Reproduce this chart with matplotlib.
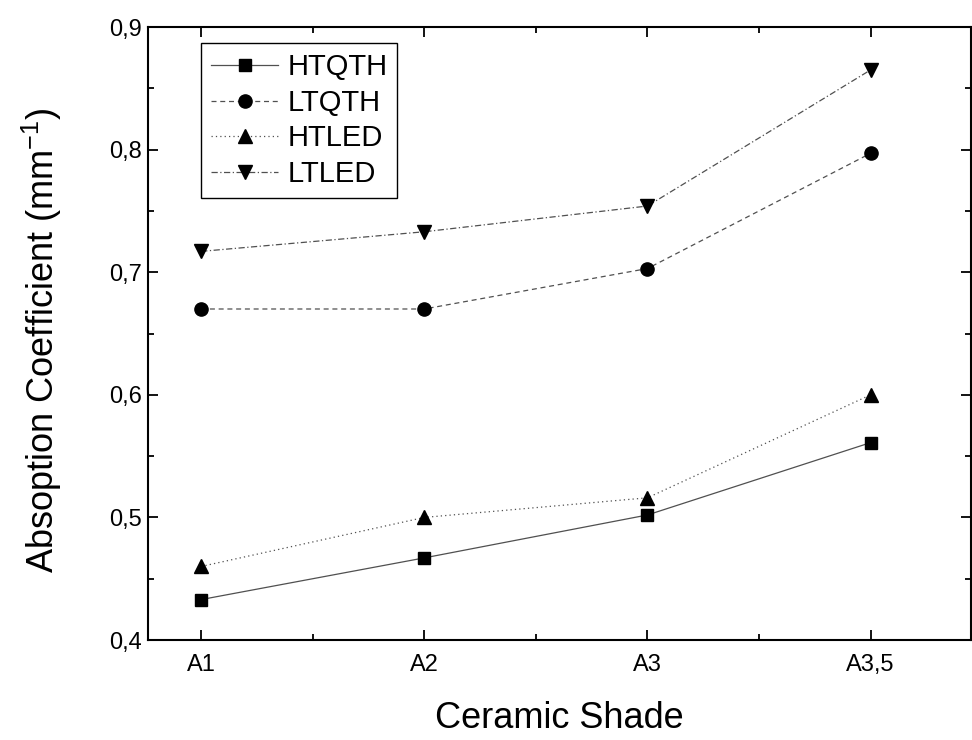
import matplotlib
matplotlib.use("Agg")
import matplotlib.pyplot as plt
from matplotlib.ticker import FixedLocator, MultipleLocator, FuncFormatter

plt.rcParams['font.family'] = ['Liberation Sans', 'DejaVu Sans']

categories = ["A1", "A2", "A3", "A3,5"]
htqth = [0.433, 0.467, 0.502, 0.561]
ltqth = [0.670, 0.670, 0.703, 0.797]
htled = [0.460, 0.500, 0.516, 0.600]
ltled = [0.717, 0.733, 0.754, 0.865]

fig = plt.figure(figsize=(9.72, 7.40), dpi=100)
ax = fig.add_axes([0.1523, 0.1351, 0.8467, 0.8284])

x = list(range(len(categories)))
lc = '#505050'
ax.plot(x, htqth, linestyle='-', color=lc, lw=0.9, marker='s', ms=8,
        mfc='black', mec='black', label='HTQTH')
ax.plot(x, ltqth, linestyle=(0, (4, 3)), color=lc, lw=0.9, marker='o', ms=9.5,
        mfc='black', mec='black', label='LTQTH')
ax.plot(x, htled, linestyle=(0, (1, 2.5)), color=lc, lw=0.9, marker='^', ms=10,
        mfc='black', mec='black', label='HTLED')
ax.plot(x, ltled, linestyle=(0, (5, 2, 1, 2)), color=lc, lw=0.9, marker='v', ms=10,
        mfc='black', mec='black', label='LTLED')

ax.set_xlim(-0.238, 3.45)
ax.set_ylim(0.4, 0.9)
ax.xaxis.set_major_locator(FixedLocator(x))
ax.set_xticklabels(categories)
ax.xaxis.set_minor_locator(FixedLocator([0.5, 1.5, 2.5]))
ax.yaxis.set_major_locator(MultipleLocator(0.1))
ax.yaxis.set_minor_locator(MultipleLocator(0.05))
ax.yaxis.set_major_formatter(FuncFormatter(lambda v, p: f"{v:.1f}".replace('.', ',')))

ax.tick_params(which='both', direction='in', top=True, right=True, width=1.3, labelsize=17)
ax.tick_params(which='major', length=7)
ax.tick_params(which='minor', length=4)
ax.tick_params(axis='x', pad=10)
ax.tick_params(axis='y', pad=4.7)
for s in ax.spines.values():
    s.set_linewidth(1.5)

ax.set_xlabel('Ceramic Shade', fontsize=26, labelpad=18)
ax.set_ylabel('Absoption Coefficient (mm$^{\\mathregular{-1}}$)', fontsize=26, labelpad=32)
ax.yaxis.label.set_y(0.4886)

leg = ax.legend(loc='upper left', bbox_to_anchor=(0.0645, 0.974), fontsize=21,
                frameon=True, fancybox=False, framealpha=1, edgecolor='black',
                handlelength=2.3, handletextpad=0.3, labelspacing=0.26,
                borderpad=0.35, borderaxespad=0)
leg.get_frame().set_linewidth(1.0)

fig.savefig('out.png', dpi=100)
